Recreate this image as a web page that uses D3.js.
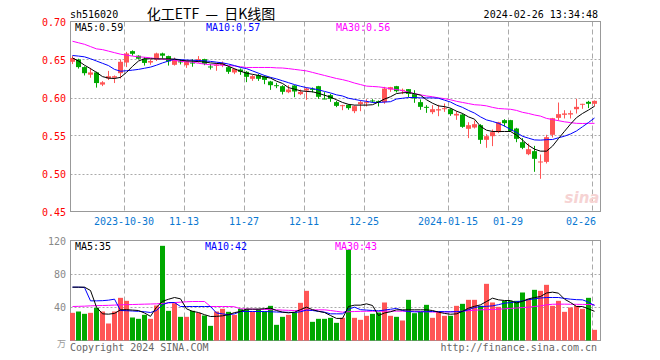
<!DOCTYPE html>
<html><head><meta charset="utf-8">
<script src="https://cdn.jsdelivr.net/npm/d3@7"></script>
<style>body{margin:0;background:#fff}svg{display:block}text{white-space:pre}</style>
</head><body>
<svg id="c" width="660" height="360"></svg>
<script>
const dates = [
"2023-10-17","2023-10-18","2023-10-19","2023-10-20","2023-10-23","2023-10-24","2023-10-25","2023-10-26","2023-10-27","2023-10-30","2023-10-31",
"2023-11-01","2023-11-02","2023-11-03","2023-11-06","2023-11-07","2023-11-08","2023-11-09","2023-11-10","2023-11-13","2023-11-14","2023-11-15","2023-11-16","2023-11-17","2023-11-20","2023-11-21","2023-11-22","2023-11-23","2023-11-24","2023-11-27","2023-11-28","2023-11-29","2023-11-30",
"2023-12-01","2023-12-04","2023-12-05","2023-12-06","2023-12-07","2023-12-08","2023-12-11","2023-12-12","2023-12-13","2023-12-14","2023-12-15","2023-12-18","2023-12-19","2023-12-20","2023-12-21","2023-12-22","2023-12-25","2023-12-26","2023-12-27","2023-12-28","2023-12-29",
"2024-01-02","2024-01-03","2024-01-04","2024-01-05","2024-01-08","2024-01-09","2024-01-10","2024-01-11","2024-01-12","2024-01-15","2024-01-16","2024-01-17","2024-01-18","2024-01-19","2024-01-22","2024-01-23","2024-01-24","2024-01-25","2024-01-26","2024-01-29","2024-01-30","2024-01-31",
"2024-02-01","2024-02-02","2024-02-05","2024-02-06","2024-02-07","2024-02-08","2024-02-19","2024-02-20","2024-02-21","2024-02-22","2024-02-23","2024-02-26"];

const open = [0.647,0.650,0.640,0.630,0.633,0.617,0.625,0.626,0.632,0.646,0.661,0.655,0.651,0.646,0.650,0.658,0.6545,0.643,0.6475,0.6425,0.646,0.6475,0.6505,0.6408,0.6421,0.6425,0.6399,0.6329,0.6368,0.6338,0.6246,0.6294,0.6276,0.6211,0.6162,0.6149,0.6070,0.6158,0.6044,0.6092,0.6114,0.6149,0.5987,0.6031,0.5939,0.5890,0.5904,0.5820,0.5912,0.5932,0.5961,0.5952,0.5939,0.6105,0.6149,0.6092,0.6110,0.6044,0.5939,0.5877,0.5807,0.5829,0.5846,0.5846,0.5763,0.5776,0.5588,0.5605,0.5636,0.5443,0.5491,0.5544,0.5702,0.5702,0.5592,0.5412,0.5254,0.5294,0.5149,0.5153,0.5509,0.5732,0.5772,0.5776,0.5846,0.5904,0.5943,0.5917];
const high = [0.655,0.651,0.641,0.639,0.634,0.6215,0.635,0.629,0.650,0.660,0.662,0.6555,0.653,0.6505,0.659,0.659,0.655,0.6525,0.6505,0.6485,0.6505,0.6545,0.651,0.6439,0.6452,0.6474,0.6412,0.6382,0.6382,0.6347,0.6298,0.6311,0.6289,0.6219,0.6193,0.6162,0.6162,0.6162,0.6105,0.6132,0.6132,0.6153,0.6070,0.6048,0.5956,0.5904,0.5912,0.5895,0.5961,0.5978,0.5978,0.5961,0.6140,0.6140,0.6153,0.6118,0.6110,0.6096,0.5974,0.5899,0.5899,0.5904,0.5921,0.5859,0.5820,0.5789,0.5675,0.5697,0.5649,0.5518,0.5579,0.5680,0.5715,0.5706,0.5601,0.5465,0.5395,0.5364,0.5250,0.5509,0.5732,0.5934,0.5833,0.5829,0.5982,0.5917,0.5956,0.5961];
const low = [0.644,0.638,0.629,0.626,0.613,0.615,0.623,0.619,0.625,0.640,0.655,0.650,0.642,0.643,0.648,0.651,0.642,0.642,0.6435,0.639,0.6405,0.646,0.6425,0.6368,0.6351,0.6399,0.6311,0.6307,0.6298,0.6202,0.6219,0.6219,0.6175,0.6100,0.6123,0.6040,0.6057,0.6004,0.6031,0.5969,0.6066,0.5982,0.5978,0.5943,0.5873,0.5833,0.5838,0.5794,0.5820,0.5882,0.5930,0.5882,0.5917,0.6075,0.6066,0.6044,0.6004,0.5930,0.5838,0.5798,0.5781,0.5754,0.5811,0.5759,0.5706,0.5601,0.5465,0.5592,0.5390,0.5338,0.5360,0.5531,0.5618,0.5548,0.5412,0.5320,0.5241,0.5022,0.4930,0.5132,0.5474,0.5697,0.5724,0.5724,0.5789,0.5851,0.5860,0.5882];
const close = [0.652,0.640,0.632,0.633,0.619,0.620,0.628,0.628,0.647,0.658,0.6575,0.651,0.6455,0.648,0.658,0.655,0.6475,0.650,0.6465,0.6475,0.6447,0.6505,0.6443,0.6399,0.6430,0.6452,0.6338,0.6377,0.6338,0.6272,0.6281,0.6246,0.6232,0.6162,0.6154,0.6075,0.6105,0.6079,0.6075,0.6118,0.6105,0.6009,0.5980,0.5982,0.5890,0.5899,0.5860,0.5886,0.5939,0.5939,0.5952,0.5939,0.6118,0.6136,0.6083,0.6101,0.6048,0.5987,0.5877,0.5868,0.5846,0.5846,0.5859,0.5781,0.5785,0.5614,0.5636,0.5649,0.5443,0.5491,0.5544,0.5675,0.5662,0.5557,0.5456,0.5338,0.5320,0.5193,0.5158,0.5478,0.5728,0.5781,0.5790,0.5794,0.5877,0.5917,0.5917,0.5956];
const volume = [33.2,34.8,32,33.2,39.2,34.8,20.4,34.8,51.2,47.6,27.6,26,30.8,26,42,113.6,35.6,44.8,28.4,28.4,35.6,33.2,30,17.6,34.8,38,34.4,30.8,38,38,34.8,38,34.8,41.6,18.8,28.4,30.8,34,45.2,59.6,22.4,26,26,27.2,21.2,27.2,108.8,27.2,24.8,29.6,32,33.6,45.6,29.6,28.4,24,48.8,32.8,34.4,42.8,27.2,34.8,29.6,29.6,41.6,44,48.8,48.8,41.6,68,45.6,40.4,47.6,47.6,47.6,57.6,50,60.8,59.6,66.8,41.6,47.6,34.4,39.6,41.6,38,51.2,12.8];

const ma5 = [0.652,0.648,0.6425,0.638,0.633,0.6275,0.6255,0.625,0.6265,0.633,0.641,0.648,0.651,0.651,0.6508,0.6508,0.6508,0.6505,0.649,0.6482,0.6478,0.6472,0.6468,0.6455,0.6448,0.6443,0.641,0.6378,0.6345,0.632,0.6305,0.629,0.627,0.6255,0.6215,0.6185,0.613,0.611,0.6088,0.608,0.6075,0.6055,0.603,0.6005,0.597,0.5935,0.591,0.590,0.590,0.590,0.5905,0.594,0.598,0.601,0.6052,0.6062,0.6066,0.605,0.6031,0.597,0.5925,0.589,0.588,0.586,0.582,0.579,0.5745,0.5715,0.562,0.557,0.5553,0.5553,0.5553,0.5553,0.5505,0.544,0.537,0.532,0.5294,0.5294,0.536,0.546,0.5555,0.565,0.5735,0.579,0.5835,0.5885];
const ma10 = [0.6553,0.6545,0.6535,0.651,0.648,0.645,0.642,0.637,0.6346,0.6352,0.636,0.637,0.6385,0.640,0.6425,0.6455,0.648,0.6505,0.6498,0.6493,0.649,0.6487,0.6482,0.6475,0.6465,0.6456,0.644,0.642,0.6395,0.638,0.635,0.632,0.629,0.6265,0.6245,0.622,0.6195,0.617,0.6148,0.613,0.6118,0.610,0.608,0.606,0.6035,0.602,0.599,0.5975,0.596,0.595,0.5935,0.5935,0.594,0.5945,0.598,0.599,0.600,0.600,0.5995,0.5995,0.5995,0.599,0.5965,0.594,0.590,0.587,0.583,0.5795,0.5745,0.5705,0.5685,0.566,0.5625,0.5579,0.554,0.549,0.5465,0.5442,0.5439,0.5445,0.5447,0.547,0.5491,0.552,0.556,0.5615,0.5671,0.573];
const ma30 = [0.674,0.672,0.670,0.667,0.664,0.663,0.661,0.659,0.657,0.6557,0.6545,0.6535,0.653,0.6522,0.651,0.6505,0.650,0.649,0.6475,0.647,0.6465,0.645,0.644,0.643,0.643,0.6425,0.642,0.6415,0.6405,0.6395,0.6395,0.6395,0.6395,0.6395,0.639,0.6388,0.638,0.637,0.636,0.635,0.633,0.631,0.629,0.627,0.625,0.6235,0.6215,0.619,0.617,0.615,0.6145,0.614,0.613,0.6115,0.6105,0.609,0.607,0.605,0.6035,0.602,0.601,0.5995,0.5985,0.597,0.595,0.5935,0.592,0.5905,0.590,0.589,0.587,0.5855,0.585,0.5845,0.583,0.5805,0.579,0.577,0.5755,0.5725,0.571,0.5695,0.568,0.567,0.566,0.5658,0.566,0.566];

const volMa5 = [64,64,64,60,40,32,31.6,32.5,36.8,37,36.5,36,33,29,40,47,49.5,51.6,50,38,35,33.6,31,28.8,29,29.6,31,33.5,34.8,37.6,37.6,37.6,38.2,38.8,36,34,33.2,34,37,40,37,35,33.6,30,26.5,26.5,40.8,42.4,42.4,44,42,30,33,34.5,36.8,36.8,36.8,36.8,36.8,36.8,36,34,32.5,31.5,32,35,38.8,41,42.8,46.8,50.8,48.8,48,48,45,47,50,51.5,52.8,57,58,56.8,49.6,45.6,40.8,40.8,38,35];
const volMa10 = [64,64,63.6,47.6,47.6,47.8,48.4,49.6,36,35.8,35.4,35,34.5,33.6,36,43,45.6,45.6,40.8,40.8,40.8,40.8,40.8,40.8,33,32,30.8,32,34.8,34.8,34.8,34.8,34.8,34.5,34.2,34,33.8,33.6,34.5,36.5,36,35,34,32,32,32,37.6,40,37,36.5,36,35.6,36.5,37.5,38.5,36,34.8,34.4,34.4,34.6,34.8,34.8,34.6,34.4,34.6,34.8,37,39.5,40.8,41,41.6,43,44.8,45.5,46.5,47.5,49,50,51,51.6,51.6,51.6,50.5,49.6,49,48.8,46,42];
const volMa30 = [40.8,41,41.2,41.6,41.8,42,42.2,42.5,42.8,43,43.2,43.4,43.6,43.8,44,44.5,45,45.5,46,46.5,46.8,46.8,46.8,40.8,40.8,40.8,40.8,40.5,38,37.8,37.6,37.4,37.2,37,36.8,36.5,36.2,36,36.2,36.4,36.6,36.8,36.8,36,35,34,34.5,34.8,35,35.1,35.2,35.2,35.2,35.2,35.2,35.2,35.2,35,34.8,34.5,34.2,34,34.2,34.5,34.8,35.2,35.8,36.3,36.8,37,37.3,37.6,38,38.5,39,39.5,40,40.8,41.6,42.8,43.5,43.6,43.6,43.5,43.4,43.3,43.2,43];

const priceTicks = [0.70,0.65,0.60,0.55,0.50,0.45];
const volTicks = [120,80,40];
const dateTicks = ["2023-10-30","2023-11-13","2023-11-27","2023-12-11","2023-12-25","2024-01-15","2024-01-29","2024-02-26"];
const dateTickLabels = ["2023-10-30","11-13","11-27","12-11","12-25","2024-01-15","01-29","02-26"];

const UP = "#ff5555", DOWN = "#00a800";
const MONO = "DejaVu Sans Mono, Liberation Mono, monospace";
const svg = d3.select("#c");

const x = d3.scaleBand().domain(dates).range([69, 597]);
const cx = d => x(d) + x.bandwidth() / 2;
const y = d3.scaleLinear().domain([0.45, 0.70]).range([211.5, 21.5]);
const yv = d3.scaleLinear().domain([0, 120]).range([340.5, 240.5]);

// horizontal dotted grid
const g = svg.append("g");
[0.65,0.60,0.55,0.50].forEach(p => g.append("line").attr("x1",70.5).attr("x2",600.5)
  .attr("y1",Math.round(y(p))+0.5).attr("y2",Math.round(y(p))+0.5)
  .attr("stroke","#aaa").attr("stroke-dasharray","2,2"));
[80,40].forEach(v => g.append("line").attr("x1",70.5).attr("x2",600.5)
  .attr("y1",Math.round(yv(v))+0.5).attr("y2",Math.round(yv(v))+0.5)
  .attr("stroke","#aaa").attr("stroke-dasharray","2,2"));
// vertical dashed grid
dateTicks.forEach(d => {
  const xx = Math.round(cx(d) - 2) + 0.5;
  [[21.5,211.5],[240.5,340.5]].forEach(r => g.append("line").attr("x1",xx).attr("x2",xx)
    .attr("y1",r[0]).attr("y2",r[1]).attr("stroke","#aaa").attr("stroke-dasharray","5,3"));
});

// borders
svg.append("rect").attr("x",70.5).attr("y",21.5).attr("width",530).attr("height",190).attr("fill","none").attr("stroke","#999");
svg.append("rect").attr("x",70.5).attr("y",240.5).attr("width",530).attr("height",100).attr("fill","none").attr("stroke","#999");

// sina watermark
svg.append("text").attr("x",582).attr("y",203).attr("text-anchor","middle")
  .attr("font-family","DejaVu Sans").attr("font-size",15).attr("font-style","italic").attr("font-weight","bold")
  .attr("fill","#f6d3d3").text("sina");

// candles
const idx = d3.range(dates.length);
const cg = svg.append("g");
cg.selectAll("line.w").data(idx).join("line")
  .attr("x1", i => Math.round(cx(dates[i]))+0.5).attr("x2", i => Math.round(cx(dates[i]))+0.5)
  .attr("y1", i => y(high[i])).attr("y2", i => y(low[i]))
  .attr("stroke", i => close[i] >= open[i] ? UP : DOWN);
cg.selectAll("rect.b").data(idx).join("rect")
  .attr("x", i => Math.round(cx(dates[i])) - 2).attr("width", 5)
  .attr("y", i => y(Math.max(open[i], close[i])))
  .attr("height", i => Math.max(1, Math.abs(y(open[i]) - y(close[i]))))
  .attr("fill", i => close[i] >= open[i] ? UP : DOWN);

// volume bars
svg.append("g").selectAll("rect").data(idx).join("rect")
  .attr("x", i => Math.round(cx(dates[i])) - 2).attr("width", 5)
  .attr("y", i => yv(volume[i])).attr("height", i => yv(0) - yv(volume[i]))
  .attr("fill", i => close[i] >= open[i] ? UP : DOWN);

// MA lines
function drawLine(arr, ys, color) {
  const line = d3.line().x(i => Math.round(cx(dates[i]))+0.5).y(i => ys(arr[i]));
  svg.append("path").attr("d", line(idx)).attr("fill","none").attr("stroke",color).attr("stroke-width",1);
}
drawLine(ma30, y, "#ff00ff");
drawLine(ma10, y, "#0000ff");
drawLine(ma5, y, "#000000");
drawLine(volMa30, yv, "#ff00ff");
drawLine(volMa10, yv, "#0000ff");
drawLine(volMa5, yv, "#000000");

// texts
function txt(s, xx, yy, color, anchor, size, family) {
  return svg.append("text").attr("x",xx).attr("y",yy).attr("fill",color)
    .attr("text-anchor",anchor||"start").attr("font-size",size||10)
    .attr("font-family",family||MONO).text(s);
}
txt("sh516020", 70, 18, "#000");
txt("化工ETF  —  日K线图", 211, 19, "#000", "middle", 14, "Noto Sans CJK SC");
txt("2024-02-26 13:34:48", 598, 18, "#000", "end");

priceTicks.forEach(p => txt(p.toFixed(2), 66, y(p) + 4, "#ff0000", "end"));
volTicks.forEach(v => txt(String(v), 66, yv(v) + 4, "#888", "end"));
txt("万", 66, 347, "#999", "end", 9, "Noto Sans CJK SC");

txt("MA5:0.59", 75, 31, "#000");
txt("MA10:0.57", 206, 31, "#0000ff");
txt("MA30:0.56", 336, 31, "#ff00ff");
txt("MA5:35", 75, 250, "#000");
txt("MA10:42", 205, 250, "#0000ff");
txt("MA30:43", 335, 250, "#ff00ff");

dateTicks.forEach((d, k) => {
  const last = k === dateTicks.length - 1;
  txt(dateTickLabels[k], last ? 596 : cx(d) - 2, 225, "#0a78d2", last ? "end" : "middle");
});

txt("Copyright 2024 SINA.COM", 70, 351, "#666");
txt("http://finance.sina.com.cn", 597, 351, "#666", "end");
</script>
</body></html>
